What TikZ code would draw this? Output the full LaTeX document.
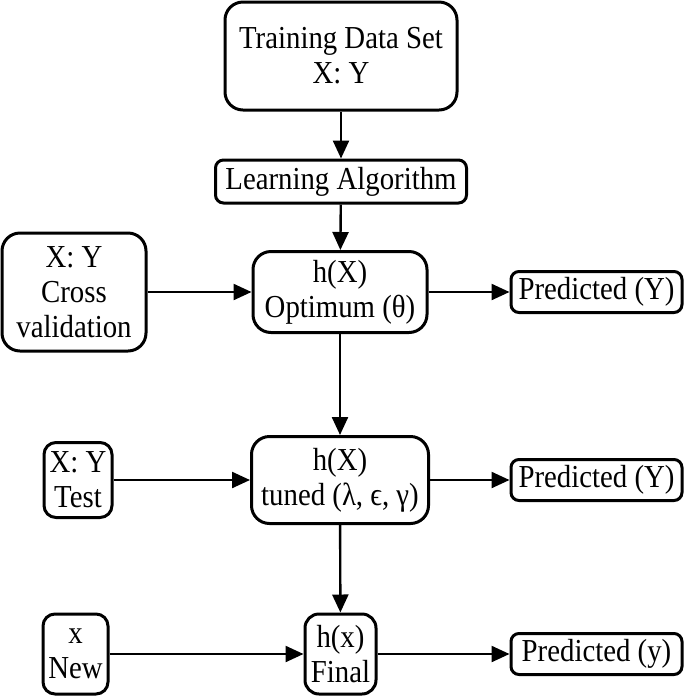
\documentclass[tikz,border=0pt]{standalone}
\usepackage{fontspec}
\setmainfont[FakeStretch=0.9]{Liberation Serif}
\usetikzlibrary{positioning,arrows.meta}

\begin{document}
\begin{tikzpicture}[
    x=0.5pt, y=-0.5pt,
    % --- Node styles ---
    block/.style={
      rectangle, draw=black, line width=1.5pt, rounded corners=9pt,
      align=center, inner sep=1pt,
      font=\fontsize{16}{17.5}\selectfont,
    },
    smallblock/.style={block, rounded corners=4pt},
    predbox/.style={smallblock, minimum width=85.5pt, minimum height=20.5pt},
    % --- Arrow styles ---
    flow/.style={-{Triangle[length=9pt, width=8pt]}, line width=1.2pt},
  ]
    \useasboundingbox (0,0) rectangle (685,698);

    % ===================== MAIN COLUMN =====================
    \node[block, minimum width=116pt, minimum height=54pt]
      (train) at (341,56) {Training Data Set\\X: Y};
    \node[smallblock, minimum width=125.5pt, minimum height=21.5pt]
      (learn) at (341,181.5) {Learning Algorithm};
    \node[block, minimum width=87pt, minimum height=40.5pt]
      (optim) at (340,292) {h(X)\\Optimum (θ)};
    \node[block, minimum width=88.5pt, minimum height=43.5pt]
      (tuned) at (340,480) {h(X)\\tuned (λ, ϵ, γ)};
    \node[block, rounded corners=7pt, minimum width=35.5pt, minimum height=40pt]
      (final) at (340.5,654) {h(x)\\Final};

    % ===================== INPUTS (LEFT) =====================
    \node[block, minimum width=72pt, minimum height=59pt]
      (cross) at (74,292) {X: Y\\Cross\\validation};
    \node[block, rounded corners=6pt, minimum width=34pt, minimum height=37.5pt]
      (test) at (78,480) {X: Y\\Test};
    \node[block, rounded corners=6pt, minimum width=32.5pt, minimum height=40pt]
      (new) at (75.5,654) {x\\New};

    % ===================== OUTPUTS (RIGHT) =====================
    \node[predbox] (pred1) at (596.5,292) {Predicted (Y)};
    \node[predbox] (pred2) at (596.5,480) {Predicted (Y)};
    \node[predbox] (pred3) at (596.5,654) {Predicted (y)};

    % ===================== ARROWS =====================
    \draw[flow] (train) -- (learn);
    \draw[flow] (learn) -- (optim);
    \draw[flow] (optim) -- (tuned);
    \draw[flow] (tuned) -- (final);

    \draw[flow] (cross) -- (optim);
    \draw[flow] (test) -- (tuned);
    \draw[flow] (new) -- (final);

    \draw[flow] (optim) -- (pred1);
    \draw[flow] (tuned) -- (pred2);
    \draw[flow] (final) -- (pred3);

\end{tikzpicture}
\end{document}
